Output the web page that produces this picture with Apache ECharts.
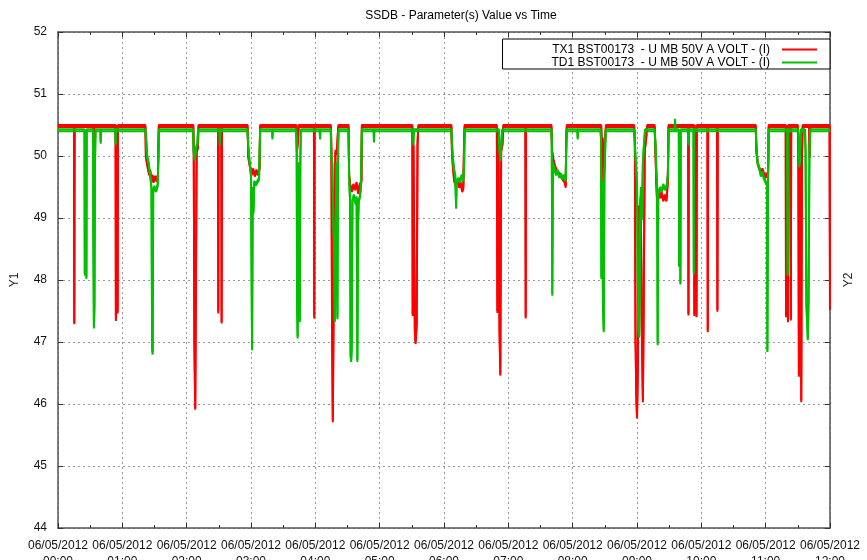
<!DOCTYPE html>
<html>
<head>
<meta charset="utf-8">
<script src="https://cdn.jsdelivr.net/npm/echarts@6/dist/echarts.min.js"></script>
<style>
html,body{margin:0;padding:0;background:#fff;}
#chart{width:867px;height:560px;}
</style>
</head>
<body>
<div id="chart"></div>
<script>
// ---- data (minutes since 06/05/2012 00:00, volts) ----
var chartTitle = 'SSDB - Parameter(s) Value vs Time';
var seriesNames = ['TX1 BST00173  - U MB 50V A VOLT - (I)', 'TD1 BST00173  - U MB 50V A VOLT - (I)'];
var dateLabel = '06/05/2012';
var hourLabels = ['00:00','01:00','02:00','03:00','04:00','05:00','06:00','07:00','08:00','09:00','10:00','11:00','12:00'];
var yTicks = [44,45,46,47,48,49,50,51,52];

var tx1Minutes = [0,14.9,15.2,15.5,32.8,33.3,33.8,53.7,54.0,54.4,55.3,55.6,55.9,
81.5,82.0,83.5,85.0,86.0,87.0,88.0,89.0,90.5,92.0,93.2,94.0,
126.2,126.6,127.2,128.0,128.6,129.3,130.5,131.0,149.2,149.5,149.8,152.3,152.6,152.9,
176.8,177.5,179.0,180.5,182.0,183.5,185.0,186.5,188.0,188.5,
222.3,222.8,223.5,224.5,238.7,239.0,239.3,
254.5,255.0,255.6,256.3,257.0,257.8,258.8,260.0,261.4,
271.0,271.5,272.5,274.0,275.5,277.0,278.5,280.0,281.5,283.0,283.4,
330.5,330.8,331.5,332.8,333.5,334.5,335.3,336.0,
366.9,367.4,368.3,369.5,371.0,372.5,374.0,375.5,377.0,378.0,378.7,379.2,
409.3,409.8,410.8,411.8,412.5,413.3,414.5,415.2,435.9,436.2,436.5,
460.2,460.8,462.0,463.5,465.0,466.5,468.0,469.5,471.0,472.5,473.5,474.0,474.5,
506.6,507.2,508.0,509.0,509.6,510.4,511.0,
537.3,538.0,538.6,539.3,540.0,540.8,541.5,542.5,543.5,544.5,545.5,546.3,547.2,548.5,549.5,
556.5,557.2,558.0,559.0,560.0,561.5,563.0,564.5,566.0,567.5,568.7,569.4,
587.7,588.0,588.3,593.2,593.5,593.8,595.2,595.5,595.8,605.7,606.0,606.3,614.7,615.0,615.3,
650.8,651.3,652.5,654.0,655.5,657.0,658.5,660.0,661.5,662.3,662.8,
678.7,679.0,679.5,680.5,680.8,681.2,683.2,683.5,683.8,
690.0,690.5,691.0,691.7,692.5,693.2,693.8,694.5,700.5,701.0,701.6,719.6,720.0];
var tx1Volts = [50.5,50.5,47.32,50.5,50.5,50.15,50.5,50.5,47.37,50.5,50.5,47.49,50.5,
50.5,50.0,49.85,49.72,49.78,49.62,49.7,49.6,49.68,49.62,49.7,50.5,
50.5,50.1,47.0,45.94,47.8,50.1,50.15,50.5,50.5,47.49,50.5,50.5,47.33,50.5,
50.5,50.0,49.85,49.72,49.8,49.7,49.78,49.72,49.82,50.5,
50.5,50.1,50.2,50.5,50.5,47.41,50.5,
50.5,50.1,47.3,45.74,47.5,48.8,50.1,50.05,50.5,
50.5,49.7,49.55,49.45,49.55,49.48,49.58,49.42,49.55,49.6,50.5,
50.5,47.45,50.2,47.2,47.0,47.3,50.2,50.5,
50.5,50.1,49.85,49.62,49.55,49.62,49.52,49.58,49.45,49.5,50.2,50.5,
50.5,47.5,50.2,47.2,46.49,50.1,50.2,50.5,50.5,47.41,50.5,
50.5,50.1,49.95,49.85,49.78,49.8,49.72,49.68,49.7,49.6,49.52,50.2,50.5,
50.5,50.2,50.3,49.35,50.1,50.3,50.5,
50.5,50.3,47.1,46.2,45.8,46.6,49.2,49.0,49.35,47.2,46.06,47.8,50.1,50.3,50.5,
50.5,50.1,49.6,49.16,49.45,49.35,49.42,49.3,49.38,49.3,49.6,50.5,
50.5,47.46,50.5,50.5,47.45,50.5,50.5,47.43,50.5,50.5,47.19,50.5,50.5,47.52,50.5,
50.5,50.1,49.9,49.82,49.75,49.8,49.72,49.68,49.7,49.75,50.5,
50.5,47.43,50.5,50.5,47.35,50.5,50.5,47.38,50.5,
50.5,50.1,46.47,49.8,49.9,46.06,50.0,50.5,50.5,50.0,50.5,50.5,47.55];

var td1Minutes = [0,24.7,25.0,25.4,26.2,26.5,26.8,32.6,33.0,33.5,34.0,34.5,35.0,39.5,39.8,40.1,53.5,53.8,54.1,
81.5,82.2,83.2,84.5,86.0,87.2,87.8,88.3,88.8,90.0,91.5,93.0,93.6,94.2,
126.0,126.5,127.5,128.8,130.0,130.6,150.7,151.0,151.3,
176.8,177.5,178.8,180.0,181.0,181.6,182.3,183.0,184.5,186.0,187.5,188.5,
199.7,200.0,200.3,
222.0,222.6,223.0,223.5,224.3,225.0,225.5,226.0,226.5,244.1,244.4,244.7,
254.4,254.8,255.8,256.8,257.5,258.2,259.0,259.8,260.6,261.2,261.7,
271.0,271.6,272.4,272.9,273.4,274.0,274.6,276.0,277.5,278.5,279.2,279.8,280.5,281.5,282.5,283.4,
294.4,294.7,295.0,331.2,331.5,331.8,
366.9,367.5,368.2,369.3,370.5,371.3,371.8,373.5,375.0,376.5,378.0,378.8,379.3,
411.2,411.8,412.6,413.5,414.2,
460.2,460.5,461.0,461.6,463.0,464.5,466.0,467.5,469.0,470.5,472.0,473.5,474.2,
484.4,484.7,485.0,
506.0,506.4,506.8,507.5,508.3,509.0,509.6,510.3,510.8,
537.3,538.0,539.0,540.0,540.8,541.4,542.0,542.8,543.6,544.5,545.5,546.5,547.5,
556.5,557.2,558.0,558.8,559.3,559.8,561.5,563.0,564.5,566.0,567.5,568.8,569.5,
575.2,575.5,575.8,579.0,579.3,579.6,580.2,580.5,580.8,587.7,588.0,588.3,592.7,593.0,593.3,
650.8,651.3,652.5,654.0,655.5,657.0,658.5,660.0,661.2,661.6,662.2,662.8,
680.2,680.5,680.8,690.3,690.8,691.5,692.3,692.8,
696.7,697.2,698.0,698.8,699.3,700.0,700.8,701.5,720.0];
var td1Volts = [50.43,50.43,48.1,50.43,50.43,48.05,50.43,50.43,48.6,47.25,47.6,49.9,50.43,50.43,50.23,50.43,50.43,50.2,50.43,
50.43,50.3,50.0,49.9,49.7,49.5,46.9,46.83,49.45,49.52,49.45,49.55,50.0,50.43,
50.43,50.1,49.95,50.15,50.2,50.43,50.43,50.2,50.43,
50.43,50.15,49.9,49.7,46.9,49.5,49.1,49.6,49.55,49.6,49.65,50.43,
50.43,50.3,50.43,
50.43,50.3,47.6,47.09,49.9,49.6,47.35,49.9,50.43,50.43,50.3,50.43,
50.43,50.0,49.9,49.0,48.6,47.35,48.4,49.9,47.4,50.1,50.43,
50.43,49.6,49.3,46.8,46.71,46.95,49.3,49.38,49.25,49.35,46.71,48.9,49.3,49.35,49.5,50.43,
50.43,50.25,50.43,50.43,50.2,50.43,
50.43,50.2,50.0,49.8,49.7,49.18,49.6,49.65,49.6,49.7,49.62,49.9,50.43,
50.43,50.1,49.95,50.2,50.43,
50.43,50.3,47.78,49.9,49.8,49.72,49.78,49.68,49.72,49.65,49.7,49.62,50.43,
50.43,50.3,50.43,
50.43,50.3,48.05,49.6,47.6,47.19,49.7,50.1,50.43,
50.43,50.2,49.9,49.6,48.0,47.2,47.1,48.5,49.5,49.0,49.9,50.2,50.43,
50.43,50.2,49.8,49.5,46.98,49.4,49.5,49.45,49.55,49.48,49.52,49.7,50.43,
50.43,50.6,50.43,50.43,48.24,50.43,50.43,47.96,50.43,50.43,50.2,50.43,50.43,48.12,50.43,
50.43,50.2,49.9,49.82,49.7,49.75,49.65,49.62,49.55,46.87,49.7,50.43,
50.43,48.1,50.43,50.43,50.2,49.85,50.2,50.43,
50.43,50.1,47.6,47.3,47.06,47.7,50.0,50.43,50.43];

// ---- build ----
function zip(a, b) { return a.map(function (t, i) { return [t, b[i]]; }); }
var redColor = '#ff0000', greenColor = '#00c000';
var FONT = '"Liberation Sans", Arial, sans-serif';
var axisLineStyle = { color: '#555', width: 1.5 };

var chart = echarts.init(document.getElementById('chart'), null, { renderer: 'canvas' });
chart.setOption({
  animation: false,
  backgroundColor: '#fff',
  textStyle: { fontFamily: FONT },
  title: {
    text: chartTitle, left: 456, top: 5, textAlign: 'center',
    textStyle: { fontSize: 12, fontWeight: 'normal', color: '#000', fontFamily: FONT }
  },
  legend: {
    orient: 'vertical', right: 37, top: 39, align: 'right',
    itemWidth: 35, itemHeight: 2, itemGap: 0,
    padding: [4, 13, 0, 49],
    backgroundColor: '#fff', borderColor: '#000', borderWidth: 1, borderRadius: 0,
    textStyle: { fontSize: 12, color: '#000', lineHeight: 13, fontFamily: FONT, padding: [0, 7, 0, 0] },
    data: [{ name: seriesNames[0], icon: 'rect' }, { name: seriesNames[1], icon: 'rect' }]
  },
  grid: { left: 58, right: 37, top: 32, bottom: 32, containLabel: false, outerBoundsMode: 'none' },
  xAxis: [{
    type: 'value', min: 0, max: 720, interval: 60, position: 'bottom',
    axisLine: { show: true, onZero: false, lineStyle: axisLineStyle },
    axisTick: { show: true, inside: true, length: 5, lineStyle: { color: '#333' } },
    minorTick: { show: true, splitNumber: 2, length: 3, lineStyle: { color: '#333' } },
    splitLine: { show: true, lineStyle: { color: '#999', type: [2, 3], width: 1 } },
    axisLabel: {
      margin: 10, fontSize: 12, color: '#111', lineHeight: 16, fontFamily: FONT,
      formatter: function (v) { return dateLabel + '\n' + hourLabels[Math.round(v / 60)]; }
    }
  }, {
    type: 'value', min: 0, max: 720, interval: 60, position: 'top',
    axisLine: { show: true, onZero: false, lineStyle: axisLineStyle },
    axisTick: { show: true, inside: true, length: 5, lineStyle: { color: '#333' } },
    minorTick: { show: true, splitNumber: 2, length: 3, lineStyle: { color: '#333' } },
    splitLine: { show: false }, axisLabel: { show: false }
  }],
  yAxis: [{
    type: 'value', min: yTicks[0], max: yTicks[yTicks.length - 1], interval: 1, position: 'left',
    name: 'Y1', nameLocation: 'middle', nameRotate: 90, nameGap: 37,
    nameTextStyle: { fontSize: 12, color: '#222', fontFamily: FONT },
    axisLine: { show: true, onZero: false, lineStyle: axisLineStyle },
    axisTick: { show: true, inside: true, length: 5, lineStyle: { color: '#333' } },
    splitLine: { show: true, lineStyle: { color: '#999', type: [2, 3], width: 1 } },
    axisLabel: { margin: 11, fontSize: 12, color: '#111', fontFamily: FONT }
  }, {
    type: 'value', min: yTicks[0], max: yTicks[yTicks.length - 1], interval: 1, position: 'right',
    name: 'Y2', nameLocation: 'middle', nameRotate: 90, nameGap: 13,
    nameTextStyle: { fontSize: 12, color: '#222', fontFamily: FONT },
    axisLine: { show: true, onZero: false, lineStyle: axisLineStyle },
    axisTick: { show: true, inside: true, length: 5, lineStyle: { color: '#333' } },
    splitLine: { show: false }, axisLabel: { show: false }
  }],
  series: [{
    name: seriesNames[0], type: 'line', xAxisIndex: 0, yAxisIndex: 0,
    showSymbol: false, symbol: 'none', z: 2, clip: true,
    color: redColor,
    lineStyle: { color: redColor, width: 2, shadowColor: redColor, shadowBlur: 0, shadowOffsetY: 2 },
    data: zip(tx1Minutes, tx1Volts)
  }, {
    name: seriesNames[1], type: 'line', xAxisIndex: 0, yAxisIndex: 0,
    showSymbol: false, symbol: 'none', z: 3, clip: true,
    color: greenColor,
    lineStyle: { color: greenColor, width: 2, shadowColor: greenColor, shadowBlur: 0, shadowOffsetY: 2 },
    data: zip(td1Minutes, td1Volts)
  }]
});
</script>
</body>
</html>
